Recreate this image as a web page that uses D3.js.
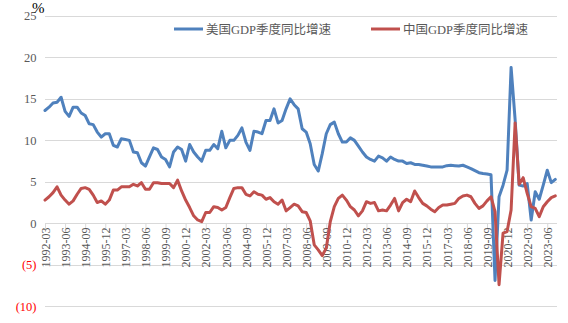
<!DOCTYPE html>
<html>
<head>
<meta charset="utf-8">
<script src="https://cdn.jsdelivr.net/npm/d3@7"></script>
<style>
  html, body { margin: 0; padding: 0; background: #fff; }
  svg { display: block; }
</style>
</head>
<body>
<div id="chart"></div>
<script>
// ---------- DATA ----------
const startYear = 1992;
const quarterCount = 128; // 1992-03 .. 2023-12
const quarterMonths = ["03", "06", "09", "12"];
const categories = d3.range(quarterCount).map(i =>
  (startYear + Math.floor(i / 4)) + "-" + quarterMonths[i % 4]);

const seriesNames = ["美国GDP季度同比增速", "中国GDP季度同比增速"];

const blueValues = [
  13.6, 14.0, 14.5, 14.6, 15.2, 13.5, 12.9, 14.0, 14.0, 13.3,
  13.0, 12.0, 11.9, 11.0, 10.4, 10.8, 10.8, 9.4, 9.2, 10.2,
  10.1, 10.0, 8.6, 8.5, 7.3, 6.9, 8.0, 9.1, 8.9, 8.0,
  7.7, 6.8, 8.6, 9.2, 8.9, 7.5, 9.5, 8.6, 8.0, 7.5,
  8.8, 8.8, 9.5, 9.0, 11.1, 9.1, 10.0, 10.0, 10.6, 11.5,
  9.8, 8.8, 11.1, 11.0, 10.8, 12.4, 12.4, 13.8, 12.1, 12.4,
  13.8, 15.0, 14.3, 13.8, 11.4, 11.0, 9.6, 7.1, 6.3, 8.4,
  10.8, 11.9, 12.2, 10.8, 9.8, 9.8, 10.3, 10.0, 9.3, 8.6,
  8.0, 7.7, 7.5, 8.1, 7.9, 7.5, 8.0, 7.7, 7.5, 7.5,
  7.2, 7.3, 7.1, 7.1, 7.0, 6.9, 6.8, 6.8, 6.8, 6.8,
  6.95, 7.0, 6.95, 6.9, 7.0, 6.8, 6.6, 6.35, 6.1, 6.0,
  5.95, 5.85, -6.9, 3.2, 4.6, 6.4, 18.8, 12.5, 4.6, 4.5,
  4.8, 0.4, 3.8, 2.9, 4.6, 6.4, 4.9, 5.3
];

const redValues = [
  2.8, 3.2, 3.7, 4.4, 3.4, 2.8, 2.3, 2.7, 3.5, 4.2,
  4.3, 4.1, 3.4, 2.5, 2.7, 2.3, 2.8, 4.0, 4.0, 4.4,
  4.4, 4.4, 4.7, 4.5, 4.9, 4.1, 4.1, 4.9, 4.9, 4.8,
  4.8, 4.8, 4.3, 5.2, 3.9, 2.8, 1.9, 0.9, 0.4, 0.2,
  1.3, 1.3, 2.0, 1.9, 1.6, 1.9, 3.1, 4.2, 4.3, 4.3,
  3.5, 3.3, 3.8, 3.5, 3.4, 2.9, 3.1, 2.6, 2.3, 2.8,
  1.5, 1.9, 2.3, 2.1, 1.4, 1.3, 0.3, -2.6, -3.2, -3.9,
  -3.0, 0.2, 2.0, 3.0, 3.4, 2.8, 2.0, 1.6, 0.9, 1.5,
  2.6, 2.4, 2.5, 1.5, 1.6, 1.5, 2.2, 3.0, 1.5, 2.5,
  2.9, 2.6, 3.9, 3.1, 2.4, 2.1, 1.7, 1.4, 1.9, 2.2,
  2.2, 2.3, 2.4, 3.0, 3.3, 3.4, 3.2, 2.4, 1.8, 2.1,
  2.7, 3.2, 1.4, -7.4, -1.2, -1.0, 1.6, 12.1, 4.7, 5.5,
  3.6, 2.0, 1.8, 0.8, 2.0, 2.6, 3.1, 3.3
];

const yTickValues = [25, 20, 15, 10, 5, 0, -5, -10];
const yTickLabels = ["25", "20", "15", "10", "5", "0", "(5)", "(10)"];
const xTickEvery = 5;

// ---------- LAYOUT ----------
const W = 568, H = 323;
const plotLeft = 45, plotRight = 557, lastPointX = 555.3;
const yTop = 16, yBottom = 306.2;

const svg = d3.select("#chart").append("svg")
  .attr("width", W).attr("height", H);

const x = d3.scalePoint().domain(categories).range([plotLeft, lastPointX]);
const y = d3.scaleLinear().domain([-10, 25]).range([yBottom, yTop]);

const numFont = "'Liberation Serif', 'Times New Roman', serif";
const gridColor = "#d9d9d9";
const textColor = "#595959";

// gridlines
svg.append("g").selectAll("line")
  .data(yTickValues)
  .join("line")
  .attr("x1", plotLeft).attr("x2", plotRight)
  .attr("y1", d => Math.round(y(d)) + 0.5)
  .attr("y2", d => Math.round(y(d)) + 0.5)
  .attr("stroke", gridColor).attr("stroke-width", 1);

// y labels
svg.append("g").selectAll("text")
  .data(yTickValues)
  .join("text")
  .attr("x", 36.5)
  .attr("y", d => y(d))
  .attr("dy", "0.35em")
  .attr("text-anchor", "end")
  .attr("font-family", numFont)
  .attr("font-size", 12.5)
  .attr("fill", d => d < 0 ? "#ff0000" : textColor)
  .text((d, i) => yTickLabels[i]);

// % unit
svg.append("text")
  .attr("x", 32).attr("y", 12.5)
  .attr("font-family", numFont)
  .attr("font-size", 15)
  .attr("fill", "#000")
  .text("%");

// x axis (at 0) with ticks and rotated labels
const tickCats = categories.filter((d, i) => i % xTickEvery === 0);
const xAxis = d3.axisBottom(x)
  .tickValues(tickCats)
  .tickSize(5)
  .tickSizeOuter(0)
  .tickPadding(3);

const gx = svg.append("g")
  .attr("transform", `translate(0,${Math.round(y(0)) + 0.5})`)
  .call(xAxis);
gx.select(".domain").attr("stroke", gridColor).attr("d", `M${plotLeft},0H${plotRight}`);
gx.selectAll(".tick line").attr("stroke", gridColor);
gx.selectAll(".tick text")
  .attr("font-family", numFont)
  .attr("font-size", 12)
  .attr("fill", textColor)
  .attr("transform", "rotate(-90)")
  .attr("text-anchor", "end")
  .attr("x", -4)
  .attr("y", 0)
  .attr("dy", "0.35em");

// lines
const lineGen = d3.line()
  .x((d, i) => x(categories[i]))
  .y(d => y(d));

const colors = ["#4f81bd", "#c0504d"];
[blueValues, redValues].forEach((vals, k) => {
  svg.append("path")
    .datum(vals)
    .attr("d", lineGen)
    .attr("fill", "none")
    .attr("stroke", colors[k])
    .attr("stroke-width", 3)
    .attr("stroke-linejoin", "round")
    .attr("stroke-linecap", "round");
});

// legend
const legendItems = [
  { name: seriesNames[0], color: colors[0], x: 174 },
  { name: seriesNames[1], color: colors[1], x: 371 }
];
const lg = svg.append("g");
legendItems.forEach(it => {
  lg.append("line")
    .attr("x1", it.x).attr("x2", it.x + 29)
    .attr("y1", 29).attr("y2", 29)
    .attr("stroke", it.color).attr("stroke-width", 3);
  lg.append("text")
    .attr("x", it.x + 32).attr("y", 29)
    .attr("dy", "0.38em")
    .attr("font-family", "'Liberation Serif', 'Noto Sans CJK SC', serif")
    .attr("font-size", 12.5)
    .attr("fill", textColor)
    .text(it.name);
});
</script>
</body>
</html>
